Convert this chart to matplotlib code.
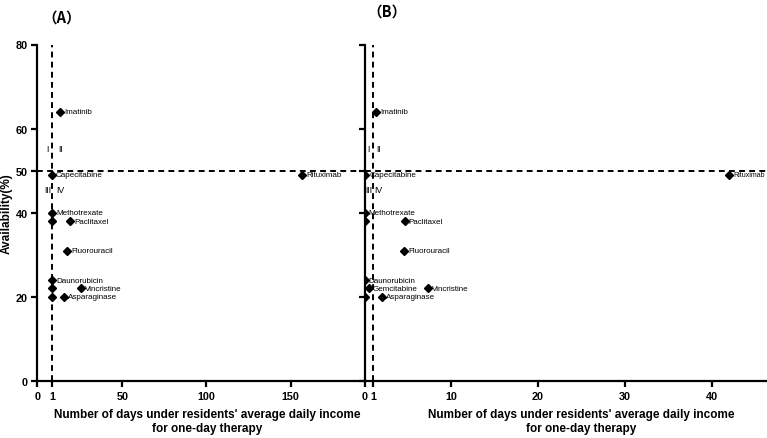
import numpy as np
import matplotlib
matplotlib.use("Agg")
import matplotlib.pyplot as plt

plt.rcParams['font.family'] = ['Liberation Sans', 'DejaVu Sans']

# ---------------- data ----------------
drugs_a = ["Imatinib", "Capecitabine", "Methotrexate", "", "Paclitaxel", "Fluorouracil",
           "Daunorubicin", "", "Vincristine", "", "Asparaginase", "Rituximab"]
days_a = [6.4, 0.96, 1.0, 0.95, 13.4, 11.1, 1.0, 1.1, 21.1, 0.98, 9.2, 156.7]
avail_a = [64, 49, 40, 38, 38, 31, 24, 22, 22, 20, 20, 49]

drugs_b = ["Imatinib", "Capecitabine", "Methotrexate", "", "Paclitaxel", "Fluorouracil",
           "Daunorubicin", "Gemcitabine", "Vincristine", "", "Asparaginase", "Rituximab"]
days_b = [1.35, 0.05, 0.0, 0.0, 4.6, 4.5, 0.0, 0.45, 7.3, 0.0, 2.0, 42.0]
avail_b = [64, 49, 40, 38, 38, 31, 24, 22, 22, 20, 20, 49]

yticks = [0, 20, 40, 50, 60, 80]
xticks_a = [0, 1, 50, 100, 150]
xticks_b = [0, 1, 10, 20, 30, 40]
quadrants = ["I", "II", "III", "IV"]
xlabel = "Number of days under residents' average daily income\nfor one-day therapy"

# piecewise axis for panel A (segmented axis as in original)
_kv = [0, 1, 50, 200]
_kp = [0, 15, 85, 337]
def fwd(v):
    return np.interp(v, _kv, _kp)
def inv(p):
    return np.interp(p, _kp, _kv)

W, H = 767, 439
fig = plt.figure(figsize=(W / 100, H / 100), dpi=100)

top_px, bot_px = 45.5, 382
axA = fig.add_axes([37.3 / W, 1 - bot_px / H, (364.5 - 37.3) / W, (bot_px - top_px) / H])
axB = fig.add_axes([364.7 / W, 1 - bot_px / H, (W - 364.7) / W, (bot_px - top_px) / H])

axA.set_xscale('function', functions=(fwd, inv))
axA.set_xlim(0, 194)
axB.set_xlim(0, 46.4)

dash = (0, (3.0, 2.2))
for ax, xs, ys, names, ticks, qx in [
        (axA, days_a, avail_a, drugs_a, xticks_a, (0.68, 6.6)),
        (axB, days_b, avail_b, drugs_b, xticks_b, (0.46, 1.6))]:
    ax.set_ylim(0, 80)
    ax.set_yticks(yticks)
    ax.set_xticks(ticks)
    ax.set_xticklabels([str(t) for t in ticks])
    for s in ['top', 'right']:
        ax.spines[s].set_visible(False)
    for s in ['left', 'bottom']:
        ax.spines[s].set_linewidth(1.6)
    ax.tick_params(direction='out', length=4, width=1.6, labelsize=7.8, pad=3)
    for lab in ax.get_xticklabels() + ax.get_yticklabels():
        lab.set_fontweight('bold')
    ax.axvline(1, color='black', lw=1.4, ls=dash, zorder=1)
    ax.axhline(50, color='black', lw=1.4, ls=dash, zorder=1)
    ax.plot(xs, ys, ls='none', marker='D', ms=3.6, color='black', zorder=3)
    for x, y, n in zip(xs, ys, names):
        if n:
            fs = 5.0 if (ax is axB and x > 40) else 5.8
            ax.annotate(n, (x, y), xytext=(3.0, 0), textcoords='offset points',
                        ha='left', va='center', fontsize=fs, annotation_clip=False)
    ax.text(qx[0], 55.2, quadrants[0], ha='center', va='center', fontsize=6.3)
    ax.text(qx[1], 55.2, quadrants[1], ha='center', va='center', fontsize=6.3)
    ax.text(qx[0], 45.5, quadrants[2], ha='center', va='center', fontsize=6.3)
    ax.text(qx[1], 45.5, quadrants[3], ha='center', va='center', fontsize=6.3)
    ax.patch.set_alpha(0)

axB.tick_params(axis='y', labelleft=False)
axA.set_ylabel("Availability(%)", fontsize=8.5, fontweight='bold', labelpad=2)

fig.text(207 / W, 1 - 422 / H, xlabel, ha='center', va='center', fontsize=8.5,
         fontweight='bold', linespacing=1.25)
fig.text(581 / W, 1 - 422 / H, xlabel, ha='center', va='center', fontsize=8.5,
         fontweight='bold', linespacing=1.25)

fig.text(62 / W, 1 - 18 / H, "（A）", ha='center', va='center', fontsize=10.5,
         fontweight='bold', family=['Noto Sans CJK SC', 'DejaVu Sans'])
fig.text(387 / W, 1 - 12 / H, "（B）", ha='center', va='center', fontsize=10.5,
         fontweight='bold', family=['Noto Sans CJK SC', 'DejaVu Sans'])

fig.savefig("out.png", dpi=100)
